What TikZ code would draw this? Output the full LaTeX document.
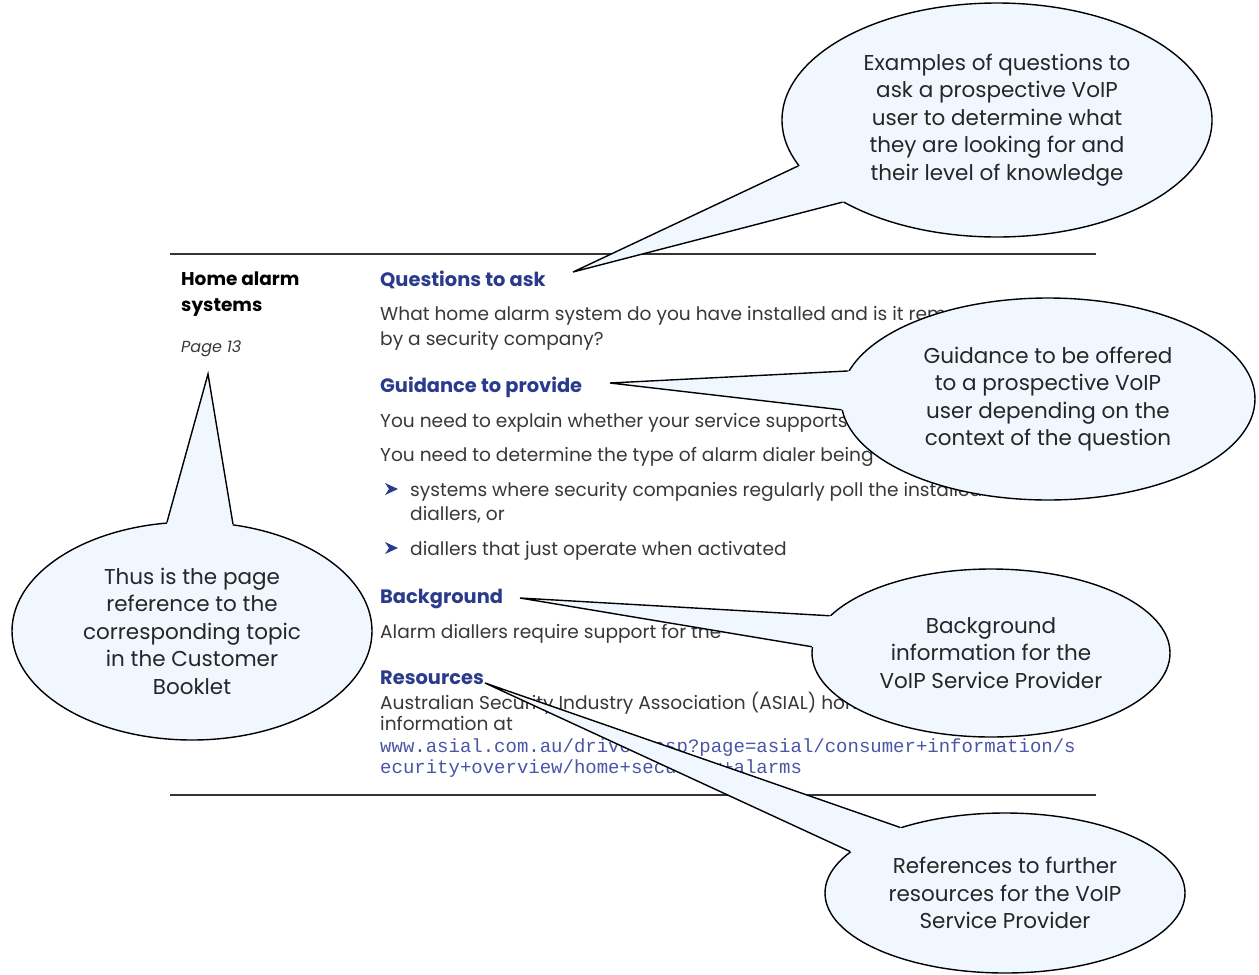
\documentclass[tikz,border=0pt]{standalone}
\usepackage{fontspec}
\setmainfont{Poppins}
\setmonofont{Liberation Mono}
\usetikzlibrary{shapes.geometric,calc}
\definecolor{headblue}{HTML}{2A3B8C}
\definecolor{bodygray}{HTML}{383838}
\definecolor{calloutfill}{HTML}{F0F7FF}
\definecolor{urlblue}{HTML}{4A56A6}
\definecolor{rulegray}{HTML}{333333}
\begin{document}
\begin{tikzpicture}[x=1pt,y=-1pt,
  body/.style={anchor=base west,inner sep=0,text=bodygray,font=\fontsize{18.6}{20}\selectfont},
  head/.style={anchor=base west,inner sep=0,text=headblue,font=\fontsize{19.4}{22}\selectfont\bfseries},
  side/.style={anchor=base west,inner sep=0,text=black,font=\fontsize{18.5}{20}\selectfont\bfseries},
  url/.style={anchor=base west,inner sep=0,text=urlblue,font=\fontsize{19}{22}\ttfamily},
  rule/.style={draw=rulegray,line width=1.4pt},
  bullet/.style={fill=headblue},
  callout/.style={ellipse,draw=black,line width=1.4pt,fill=calloutfill,inner sep=0,align=center,
    text=black!85,font=\fontsize{21.5}{27.5}\selectfont},
  tailfill/.style={fill=calloutfill},
  tail/.style={draw=black,line width=1.4pt,line join=miter},
]
\useasboundingbox (0,0) rectangle (1259,975);
\fill[white] (0,0) rectangle (1259,975);

% rules
\draw[rule] (170,254) -- (1096,254);
\draw[rule] (170,795) -- (1096,795);

% left column
\node[side] (t1) at (181,285) {Home alarm};
\node[side] (t2) at (181,311) {systems};
\node[anchor=base west,inner sep=0,text=bodygray,font=\fontsize{16}{18}\selectfont\itshape] (pg) at (181,352) {Page 13};

% main column
\node[head] (hq) at (380,286) {Questions to ask};
\node[body] (b1) at (380,320) {What home alarm system do you have installed and is it remote};
\node[body] (b2) at (380,345) {by a security company?};
\node[head] (hg) at (380,392) {Guidance to provide};
\node[body] (b3) at (380,427) {You need to explain whether your service supports};
\node[body] (b4) at (380,461) {You need to determine the type of alarm dialer being};
\fill[bullet] (385,483) -- (398,489) -- (385,495) -- (389,489) -- cycle;
\node[body] (b5) at (410,496) {systems where security companies regularly poll the installed};
\node[body] (b6) at (410,520) {diallers, or};
\fill[bullet] (385,542) -- (398,548) -- (385,554) -- (389,548) -- cycle;
\node[body] (b7) at (410,555) {diallers that just operate when activated};
\node[head] (hb) at (380,603) {Background};
\node[body] (b8) at (380,638) {Alarm diallers require support for the};
\node[head] (hr) at (380,684) {Resources};
\node[body] (b9) at (380,709) {Australian Security Industry Association (ASIAL) home};
\node[body] (b10) at (380,730) {information at};
\node[url] (u1) at (380,752) {www.asial.com.au/driver.asp?page=asial/consumer+information/s};
\node[url] (u2) at (380,773) {ecurity+overview/home+security+alarms};

% callout: questions
\node[callout,minimum width=430,minimum height=234] (Q) at (997,120)
  {Examples of questions to\\ask a prospective VoIP\\user to determine what\\they are looking for and\\their level of knowledge};
\coordinate (Qtip) at (573,272);
\fill[tailfill] (Qtip) -- (Q.193.7) -- ($(Q.193.7)!0.05!(Q.center)$) -- ($(Q.208.9)!0.05!(Q.center)$) -- (Q.208.9) -- cycle;
\draw[tail] (Q.193.7) -- (Qtip) -- (Q.208.9);

% callout: guidance
\node[callout,minimum width=414,minimum height=202] (G) at (1048,399)
  {Guidance to be offered\\to a prospective VoIP\\user depending on the\\context of the question};
\coordinate (Gtip) at (610,383);
\fill[tailfill] (Gtip) -- (G.172.2) -- ($(G.172.2)!0.05!(G.center)$) -- ($(G.183.9)!0.05!(G.center)$) -- (G.183.9) -- cycle;
\draw[tail] (G.172.2) -- (Gtip) -- (G.183.9);

% callout: background
\node[callout,minimum width=358,minimum height=168] (B) at (991,653)
  {Background\\information for the\\VoIP Service Provider};
\coordinate (Btip) at (520,598);
\fill[tailfill] (Btip) -- (B.167.4) -- ($(B.167.4)!0.05!(B.center)$) -- ($(B.178.4)!0.05!(B.center)$) -- (B.178.4) -- cycle;
\draw[tail] (B.167.4) -- (Btip) -- (B.178.4);

% callout: page reference
\node[callout,minimum width=360,minimum height=218] (L) at (192,631)
  {Thus is the page\\reference to the\\corresponding topic\\in the Customer\\Booklet};
\coordinate (Ltip) at (208,374);
\fill[tailfill] (Ltip) -- (L.103.9) -- ($(L.103.9)!0.05!(L.center)$) -- ($(L.69.3)!0.05!(L.center)$) -- (L.69.3) -- cycle;
\draw[tail] (L.103.9) -- (Ltip) -- (L.69.3);

% callout: resources
\node[callout,minimum width=360,minimum height=160] (R) at (1005,893)
  {References to further\\resources for the VoIP\\Service Provider};
\coordinate (Rtip) at (485,683);
\fill[tailfill] (Rtip) -- (R.148.6) -- ($(R.148.6)!0.05!(R.center)$) -- ($(R.165)!0.05!(R.center)$) -- (R.165) -- cycle;
\draw[tail] (R.148.6) -- (Rtip) -- (R.165);
\end{tikzpicture}
\end{document}
